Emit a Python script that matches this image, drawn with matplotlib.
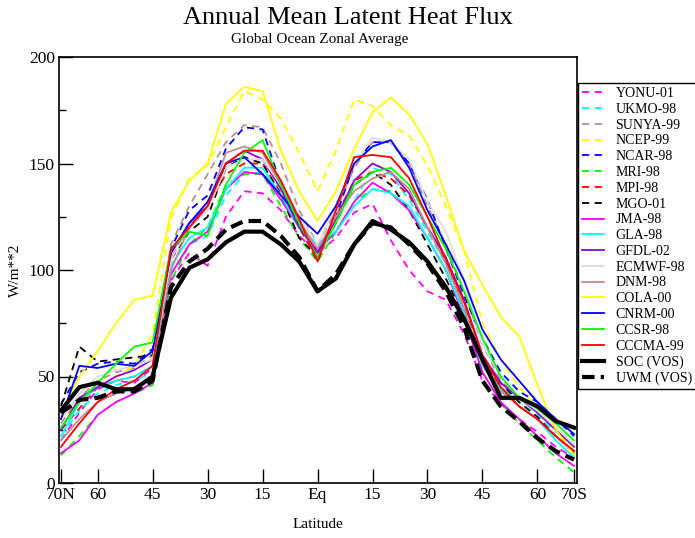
import numpy as np
import matplotlib
matplotlib.use('Agg')
import matplotlib.pyplot as plt

plt.rcParams['font.family'] = ['Liberation Serif', 'DejaVu Serif']

# latitude, 70N -> 70S (north positive)
lats = [70, 65, 60, 55, 50, 45, 40, 35, 30, 25, 20, 15, 10, 5, 0,
        -5, -10, -15, -20, -25, -30, -35, -40, -45, -50, -55, -60, -65, -70]

yonu  = [20, 33, 44, 48, 47, 54, 95, 108, 102, 125, 137, 136, 128, 116, 108, 115, 127, 131, 114, 100, 90, 86, 70, 48, 37, 30, 24, 17, 12]
ukmo  = [22, 34, 42, 46, 48, 52, 98, 112, 116, 135, 145, 146, 135, 120, 110, 118, 132, 148, 145, 133, 118, 103, 85, 60, 45, 38, 32, 24, 18]
sunya = [28, 40, 48, 52, 54, 60, 112, 130, 145, 160, 168, 167, 150, 128, 112, 128, 148, 160, 160, 150, 130, 112, 90, 65, 48, 40, 34, 26, 18]
ncep  = [25, 38, 45, 50, 55, 70, 124, 143, 149, 167, 184, 180, 171, 155, 137, 156, 180, 177, 168, 163, 149, 130, 109, 75, 58, 45, 35, 25, 15]
ncar  = [37, 52, 56, 57, 56, 63, 110, 128, 135, 157, 167, 166, 140, 120, 108, 125, 150, 160, 160, 150, 133, 110, 88, 68, 52, 43, 38, 30, 22]
mri   = [13, 22, 32, 38, 42, 46, 95, 112, 120, 140, 145, 145, 130, 115, 104, 118, 132, 138, 137, 128, 115, 100, 78, 52, 38, 28, 20, 12, 5]
mpi   = [25, 35, 45, 48, 50, 55, 105, 122, 130, 145, 150, 150, 136, 120, 104, 125, 142, 146, 143, 135, 120, 104, 82, 58, 45, 36, 30, 22, 14]
mgo   = [36, 64, 57, 58, 59, 60, 105, 118, 125, 148, 153, 150, 135, 115, 106, 122, 140, 146, 140, 128, 112, 96, 78, 60, 47, 38, 31, 22, 15]
jma   = [14, 20, 32, 38, 42, 47, 98, 112, 118, 138, 146, 145, 133, 120, 109, 118, 132, 141, 136, 128, 115, 100, 78, 52, 38, 30, 22, 14, 8]
gla   = [22, 38, 45, 48, 50, 55, 102, 115, 120, 138, 148, 148, 135, 120, 112, 118, 130, 138, 136, 130, 115, 100, 80, 55, 44, 36, 30, 20, 12]
gfdl  = [25, 40, 45, 50, 53, 58, 108, 122, 130, 150, 156, 152, 138, 120, 108, 124, 142, 150, 146, 136, 120, 106, 86, 60, 47, 40, 33, 25, 17]
ecmwf = [30, 42, 50, 53, 55, 58, 105, 120, 128, 148, 152, 152, 140, 125, 112, 130, 150, 162, 160, 152, 132, 118, 95, 65, 50, 40, 34, 26, 18]
dnm   = [20, 30, 38, 42, 45, 50, 100, 120, 130, 155, 158, 155, 140, 123, 110, 125, 137, 143, 146, 138, 120, 103, 82, 56, 43, 36, 30, 22, 14]
cola  = [33, 50, 62, 75, 86, 88, 127, 142, 150, 178, 186, 184, 156, 137, 123, 137, 157, 174, 181, 173, 159, 135, 109, 93, 78, 69, 46, 25, 13]
cnrm  = [30, 55, 54, 56, 55, 62, 108, 122, 132, 150, 153, 145, 135, 125, 117, 130, 150, 158, 161, 148, 128, 112, 95, 72, 58, 48, 38, 30, 23]
ccsr  = [26, 38, 47, 56, 64, 66, 110, 118, 116, 140, 155, 161, 140, 122, 106, 122, 140, 146, 148, 140, 125, 110, 90, 68, 50, 40, 35, 28, 20]
cccma = [17, 28, 38, 44, 48, 55, 110, 120, 130, 150, 156, 156, 142, 124, 104, 128, 153, 154, 153, 143, 125, 105, 85, 60, 45, 36, 30, 22, 15]
soc   = [34, 45, 47, 44, 44, 50, 87, 101, 105, 113, 118, 118, 112, 104, 90, 96, 112, 123, 119, 113, 104, 92, 77, 58, 40, 40, 36, 29, 26]
uwm   = [33, 39, 40, 43, 43, 48, 92, 104, 110, 119, 123, 123, 116, 106, 90, 98, 112, 122, 120, 112, 103, 90, 73, 48, 36, 29, 21, 15, 11]

# (label, values, colour, dashed)
series = [
    ('YONU-01', yonu, '#ff00ff', True),
    ('UKMO-98', ukmo, '#00ffff', True),
    ('SUNYA-99', sunya, '#bc8f8f', True),
    ('NCEP-99', ncep, '#ffff00', True),
    ('NCAR-98', ncar, '#0000ff', True),
    ('MRI-98', mri, '#00ff00', True),
    ('MPI-98', mpi, '#ff0000', True),
    ('MGO-01', mgo, '#000000', True),
    ('JMA-98', jma, '#ff00ff', False),
    ('GLA-98', gla, '#00ffff', False),
    ('GFDL-02', gfdl, '#9400d3', False),
    ('ECMWF-98', ecmwf, '#dcdcdc', False),
    ('DNM-98', dnm, '#bc8f8f', False),
    ('COLA-00', cola, '#ffff00', False),
    ('CNRM-00', cnrm, '#0000ff', False),
    ('CCSR-98', ccsr, '#00ff00', False),
    ('CCCMA-99', cccma, '#ff0000', False),
]

fig = plt.figure(figsize=(6.95, 5.38), dpi=100)
ax = fig.add_axes([59/695, 1-483/538, (577-59)/695, (483-57)/538])

x = -np.array(lats)
for name, vals, col, dashed in series:
    if dashed:
        ax.plot(x, vals, color=col, lw=1.3, dashes=(4, 3), label=name)
    else:
        ax.plot(x, vals, color=col, lw=1.3, label=name)
ax.plot(x, soc, color='black', lw=3, label='SOC (VOS)')
ax.plot(x, uwm, color='black', lw=3, dashes=(3, 1.5), label='UWM (VOS)')

ax.set_xlim(-70.55, 70.8)
ax.set_ylim(0, 200)
ax.set_xticks([-70, -60, -45, -30, -15, 0, 15, 30, 45, 60, 70])
ax.set_xticklabels(['70N', '60', '45', '30', '15', 'Eq', '15', '30', '45', '60', '70S'])
ax.set_yticks([0, 50, 100, 150, 200])
ax.set_yticks([25, 75, 125, 175], minor=True)
ax.tick_params(direction='in', length=10, width=1, labelsize=12.5, pad=3)
ax.tick_params(which='minor', direction='in', length=5, width=1)
for s in ax.spines.values():
    s.set_linewidth(1.2)

# axis titles placed in figure coordinates
fig.text(318/695, 1-525/538, 'Latitude', ha='center', va='center', fontsize=11)
fig.text(15/695, 1-270/538, 'W/m**2', ha='center', va='center', rotation=90, fontsize=11)

fig.text(0.5, 1-18/538, 'Annual Mean Latent Heat Flux', ha='center', va='center', fontsize=19)
fig.text(320/695, 1-40/538, 'Global Ocean Zonal Average', ha='center', va='center', fontsize=11)

leg = fig.legend(loc='upper left', bbox_to_anchor=(578/695, 1-83/538), fontsize=10,
                 handlelength=1.6, handletextpad=0.8, labelspacing=0.2,
                 borderaxespad=0, borderpad=0.3, fancybox=False, framealpha=1)
leg.get_frame().set_edgecolor('black')
leg.get_frame().set_linewidth(1)

fig.savefig('out.png', dpi=100)
